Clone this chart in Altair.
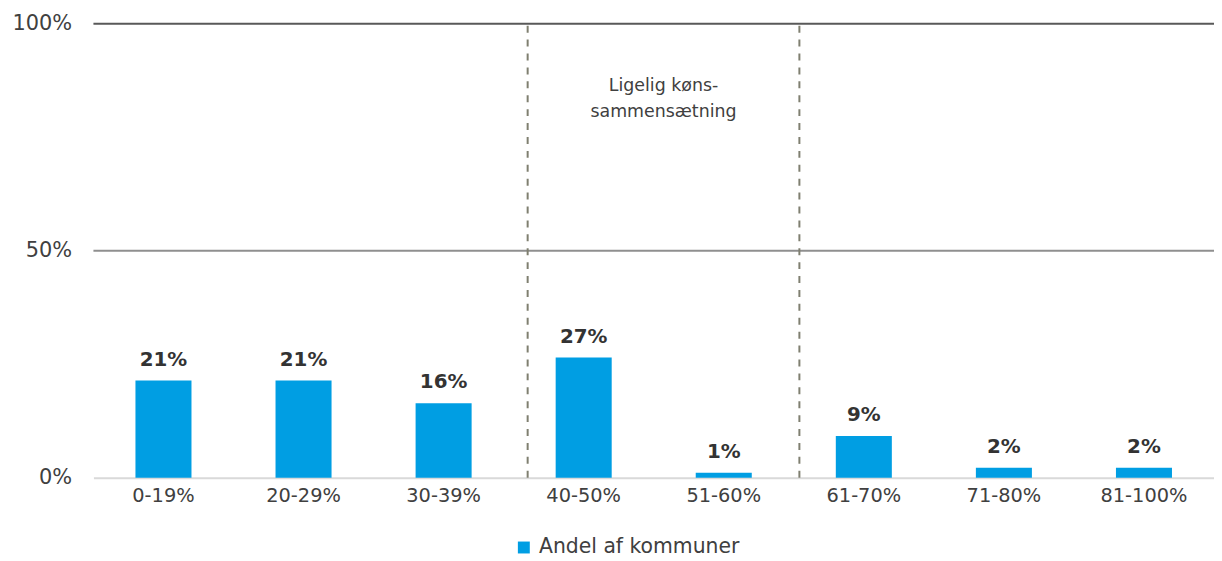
import altair as alt
import pandas as pd

categories = ["0-19%", "20-29%", "30-39%", "40-50%", "51-60%", "61-70%", "71-80%", "81-100%"]
values = [0.214, 0.214, 0.164, 0.265, 0.011, 0.092, 0.022, 0.022]
series_name = "Andel af kommuner"
grid_values = [0.5, 1.0]
y_ticks = [0, 0.5, 1]
# dashed separators, in category-slot units (0 = left edge, 8 = right edge)
separator_pos = [3.1, 5.04]
annotation_pos = [4.07]
annotation_y = [0.862]
annotation_lines = ["Ligelig køns-", "sammensætning"]

FONT = "DejaVu Sans"
W, H = 1128, 457

df = pd.DataFrame({"cat": categories, "val": values, "series": series_name})
xsc = alt.Scale(domain=categories, paddingInner=0.6)
ysc = alt.Scale(domain=[0, 1])
xq = alt.Scale(domain=[0, len(categories)], nice=False, zero=False)

grid = alt.Chart(pd.DataFrame({"g": grid_values})).mark_rule(strokeWidth=2).encode(
    y=alt.Y("g:Q", scale=ysc),
    color=alt.Color("g:Q", scale=alt.Scale(domain=grid_values, range=["#8f8f8f", "#595959"]), legend=None),
)

bars = alt.Chart(df).mark_bar(color="#009EE3").encode(
    x=alt.X("cat:N", scale=xsc, sort=categories,
            axis=alt.Axis(title=None, labelAngle=0, labelFontSize=19.5, labelColor="#404040",
                          labelFont=FONT, ticks=False, domainColor="#d9d9d9", domainWidth=2,
                          labelPadding=9)),
    y=alt.Y("val:Q", scale=ysc,
            axis=alt.Axis(title=None, values=y_ticks, format=".0%", labelFontSize=21,
                          labelColor="#404040", labelFont=FONT, ticks=False, domain=False,
                          grid=False, labelPadding=22)),
    fill=alt.Fill("series:N", scale=alt.Scale(range=["#009EE3"]),
                  legend=alt.Legend(title=None, orient="none", legendX=423, legendY=517,
                                    symbolType="square", symbolSize=144, labelFontSize=20.5,
                                    labelFont=FONT, labelColor="#404040", labelLimit=0,
                                    labelOffset=5, symbolStrokeWidth=0)),
)

labels = alt.Chart(df).mark_text(font=FONT, fontSize=20, fontWeight="bold", color="#333333",
                                 baseline="alphabetic", dy=-15).encode(
    x=alt.X("cat:N", scale=xsc, sort=categories),
    y=alt.Y("val:Q", scale=ysc),
    text=alt.Text("val:Q", format=".0%"),
)

bar_layer = alt.layer(grid, bars, labels)

vlines = alt.Chart(pd.DataFrame({"p": separator_pos, "y0": 0, "y1": 1})).mark_rule(
    color="#7f7f70", strokeWidth=2, strokeDash=[7, 7]).encode(
    x=alt.X("p:Q", scale=xq, axis=None),
    y=alt.Y("y0:Q", scale=ysc),
    y2="y1:Q",
)

ann = alt.Chart(pd.DataFrame({"p": annotation_pos, "y": annotation_y, "t": [annotation_lines]})).mark_text(
    font=FONT, fontSize=17.5, color="#404040", align="center", baseline="middle", lineHeight=26).encode(
    x=alt.X("p:Q", scale=xq, axis=None),
    y=alt.Y("y:Q", scale=ysc),
    text="t",
)

chart = alt.layer(bar_layer, vlines, ann).resolve_scale(
    color="independent", x="independent"
).properties(
    width=W, height=H,
    autosize=alt.AutoSizeParams(type="none"),
    padding={"left": 86, "top": 14, "right": 0, "bottom": 82},
).configure_view(stroke=None)

chart.save("out.html", embed_options={"renderer": "svg", "actions": False})
